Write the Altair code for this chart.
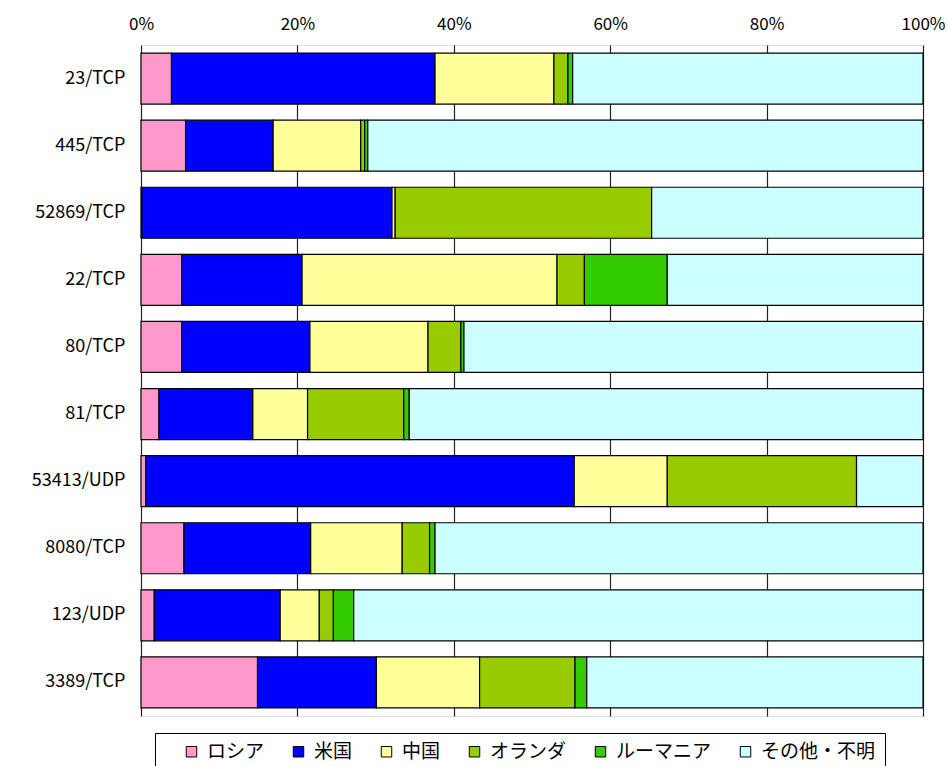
import altair as alt
import pandas as pd

# Ports (top to bottom) and origin countries of the traffic
ports = ["23/TCP", "445/TCP", "52869/TCP", "22/TCP", "80/TCP",
         "81/TCP", "53413/UDP", "8080/TCP", "123/UDP", "3389/TCP"]
countries = ["ロシア", "米国", "中国", "オランダ", "ルーマニア", "その他・不明"]
colors = ["#FF99CC", "#0000FF", "#FFFF99", "#99CC00", "#33CC00", "#CCFFFF"]

# Share (%) of each country per port
russia      = [3.9, 5.7, 0.1, 5.2, 5.2, 2.3, 0.6, 5.5, 1.7, 14.9]
usa         = [33.7, 11.2, 32.0, 15.4, 16.4, 12.0, 54.8, 16.2, 16.1, 15.2]
china       = [15.2, 11.2, 0.4, 32.6, 15.1, 7.0, 11.9, 11.7, 5.0, 13.2]
netherlands = [1.8, 0.5, 32.8, 3.5, 4.2, 12.3, 24.2, 3.5, 1.8, 12.2]
romania     = [0.6, 0.4, 0.0, 10.6, 0.4, 0.7, 0.0, 0.7, 2.6, 1.5]
other       = [44.8, 71.0, 34.7, 32.7, 58.7, 65.7, 8.5, 62.4, 72.8, 43.0]

series = [russia, usa, china, netherlands, romania, other]
rows = []
for ci, (name, vals) in enumerate(zip(countries, series)):
    for port, v in zip(ports, vals):
        if v > 0:
            rows.append({"port": port, "country": name, "order": ci, "share": v})
df = pd.DataFrame(rows)

FONT = "Noto Sans CJK JP"

chart = alt.Chart(df).mark_bar(stroke="black", strokeWidth=1.2).encode(
    y=alt.Y("port:N", sort=ports, title=None,
            scale=alt.Scale(paddingInner=0.24, paddingOuter=0.12),
            axis=alt.Axis(ticks=False, domain=False, grid=False,
                          labelPadding=16, labelFontSize=18, labelFont=FONT,
                          labelColor="black")),
    x=alt.X("share:Q", stack="normalize", title=None,
            scale=alt.Scale(domain=[0, 1], nice=False),
            axis=alt.Axis(orient="top", format=".0%", values=[0, 0.2, 0.4, 0.6, 0.8, 1.0],
                          ticks=False, domain=False, labelPadding=12,
                          labelFontSize=17, labelFont=FONT, labelColor="black",
                          grid=True, gridColor="#222222", gridWidth=1.2,
                          labelFlush=False)),
    color=alt.Color("country:N", sort=countries,
                    scale=alt.Scale(domain=countries, range=colors),
                    legend=alt.Legend(
                        title=None, orient="none", direction="horizontal",
                        legendX=14, legendY=688,
                        symbolType="square", symbolSize=110,
                        symbolStrokeColor="black", symbolStrokeWidth=1,
                        symbolOpacity=1,
                        labelFont=FONT, labelFontSize=19, labelColor="black",
                        labelOffset=6, columnPadding=6,
                        strokeColor="black", fillColor="white",
                        padding=9, symbolOffset=18)),
    order=alt.Order("order:Q"),
).properties(
    width=782, height=671,
    autosize=alt.AutoSizeParams(type="none"),
    padding={"left": 141, "top": 45, "right": 25, "bottom": 50},
).configure_view(
    stroke="black", strokeWidth=1.8,
).configure(background="white")

chart.save("out.html", embed_options={"renderer": "svg", "actions": False})
